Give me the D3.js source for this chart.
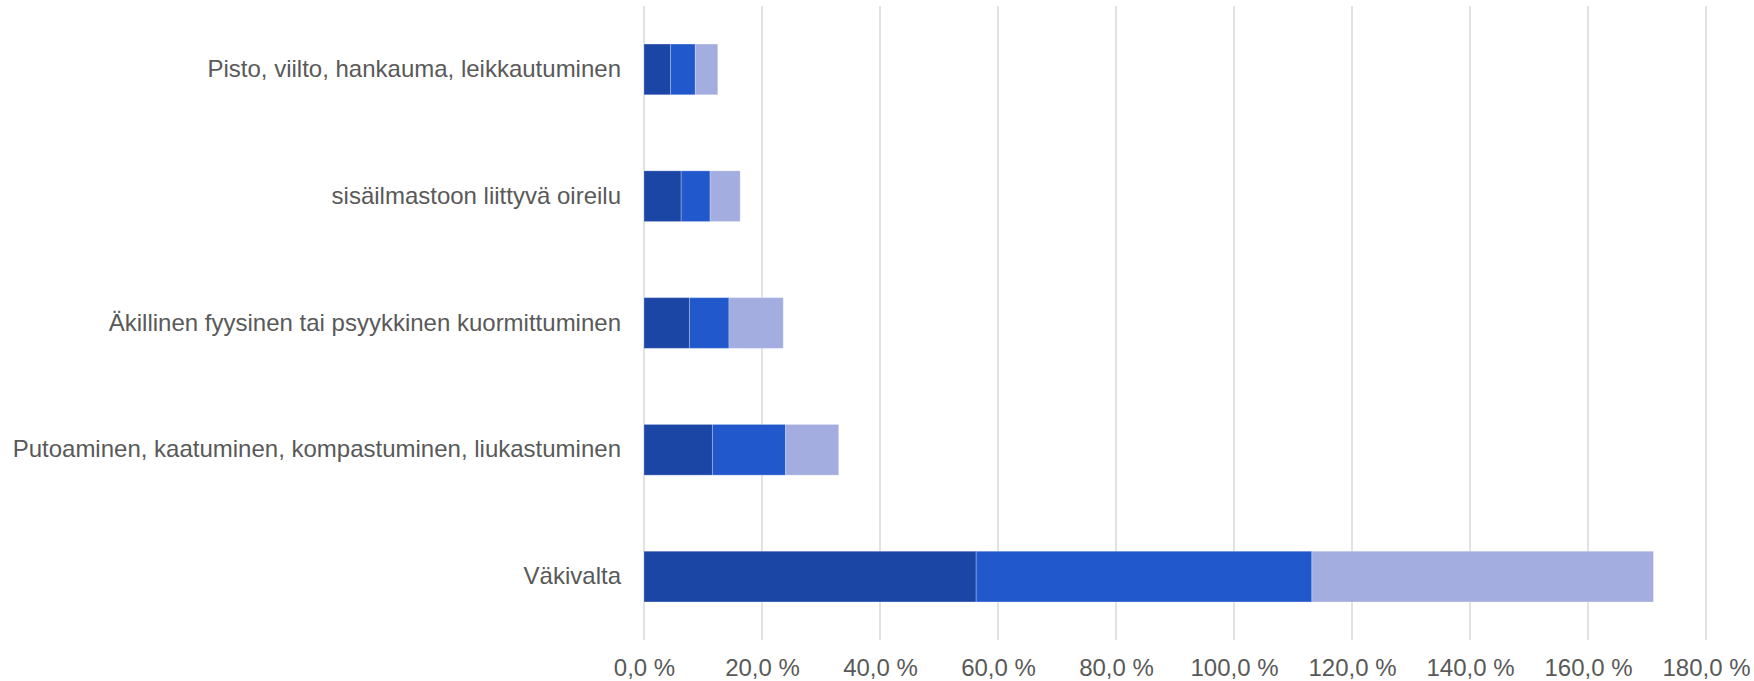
<!DOCTYPE html>
<html>
<head>
<meta charset="utf-8">
<script src="https://cdn.jsdelivr.net/npm/d3@7"></script>
<style>
  html, body { margin: 0; padding: 0; background: #ffffff; }
  svg { display: block; }
</style>
</head>
<body>
<svg id="chart" width="1754" height="681"></svg>
<script>
// ---- Data ----
const categories = [
  "Pisto, viilto, hankauma, leikkautuminen",
  "sisäilmastoon liittyvä oireilu",
  "Äkillinen fyysinen tai psyykkinen kuormittuminen",
  "Putoaminen, kaatuminen, kompastuminen, liukastuminen",
  "Väkivalta"
];
const seriesNames = ["Sarja 1", "Sarja 2", "Sarja 3"];
const series1 = [4.5, 6.3, 7.7, 11.6, 56.3];
const series2 = [4.2, 4.9, 6.7, 12.4, 56.9];
const series3 = [3.8, 5.1, 9.2, 9.0, 57.9];
const seriesColors = ["#1b46a6", "#2159cd", "#a3ade0"];
const tickValues = [0, 20, 40, 60, 80, 100, 120, 140, 160, 180];

// ---- Layout ----
const svg = d3.select("#chart");
const x0 = 644, x1 = 1706, yTop = 6, yBottom = 640;

const x = d3.scaleLinear().domain([0, 180]).range([x0, x1]);
const y = d3.scaleBand().domain(categories).range([yTop, yBottom])
  .paddingInner(0.6).paddingOuter(0.3);

const rows = categories.map((c, i) => ({ cat: c, s0: series1[i], s1: series2[i], s2: series3[i] }));
const stack = d3.stack().keys(["s0", "s1", "s2"]);
const stacked = stack(rows);

// gridlines
svg.append("g").selectAll("line").data(tickValues).join("line")
  .attr("x1", d => x(d)).attr("x2", d => x(d))
  .attr("y1", yTop).attr("y2", yBottom)
  .attr("stroke", "#d9d9d9").attr("stroke-width", 1.5);

// bars
svg.append("g").selectAll("g").data(stacked).join("g")
  .attr("fill", (d, i) => seriesColors[i])
  .selectAll("rect").data(d => d).join("rect")
  .attr("x", d => x(d[0]))
  .attr("width", d => x(d[1]) - x(d[0]))
  .attr("y", d => y(d.data.cat))
  .attr("height", y.bandwidth())
  .attr("stroke", "rgba(255,255,255,0.25)")
  .attr("stroke-width", 1);

// x-axis labels
const fmt = v => v.toFixed(1).replace(".", ",") + " %";
const xAxis = d3.axisBottom(x).tickValues(tickValues).tickFormat(fmt).tickSize(0).tickPadding(0);
const gx = svg.append("g").attr("transform", `translate(0, 668)`).call(xAxis);
gx.select(".domain").remove();
gx.selectAll("text")
  .attr("dy", "0.35em").attr("y", 0)
  .attr("fill", "#595959")
  .style("font-family", "'Liberation Sans', Arial, sans-serif")
  .style("font-size", "24px");

// y-axis labels
const yAxis = d3.axisLeft(y).tickSize(0).tickPadding(23);
const gy = svg.append("g").attr("transform", `translate(${x0}, 0)`).call(yAxis);
gy.select(".domain").remove();
gy.selectAll("text")
  .attr("fill", "#595959")
  .style("font-family", "'Liberation Sans', Arial, sans-serif")
  .style("font-size", "24px");
</script>
</body>
</html>
